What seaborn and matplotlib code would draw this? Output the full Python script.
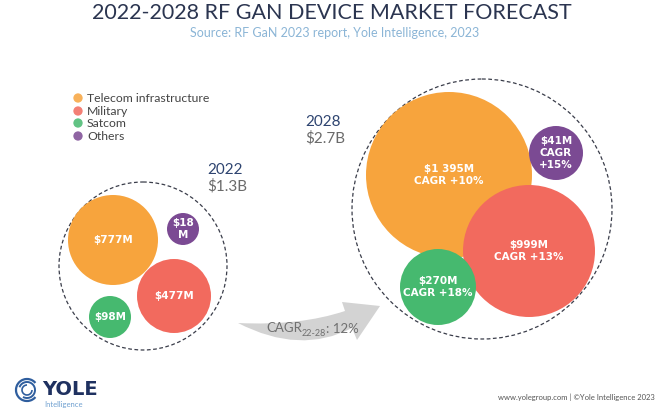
import numpy as np
import pandas as pd
import matplotlib
matplotlib.use("Agg")
import matplotlib.pyplot as plt
import seaborn as sns
from matplotlib.patches import Circle, PathPatch, Arc
from matplotlib.path import Path

# data
categories = ["Telecom infrastructure", "Military", "Satcom", "Others"]
values_2022 = [777, 477, 98, 18]        # $M
values_2028 = [1395, 999, 270, 41]      # $M
cagr_22_28 = [10, 13, 18, 15]           # %
total_2022 = "$1.3B"
total_2028 = "$2.7B"
cagr_total = 12
colors = ["#F7A43D", "#F26A5E", "#46B96F", "#7B4A93"]

# bubble layout in pixel space (x, y, radius) - packing, not data
layout_2022 = [(113, 240, 45), (174, 296, 37), (110, 317, 21), (183, 229, 16)]
layout_2028 = [(449, 175, 83), (529, 251, 66), (438, 287, 38), (556, 153, 27)]
DPI = 100


def fmt_m(v):
    s = f"{v:,}".replace(",", " ")
    return f"${s}M"


def build_frame(year, values, layout, cagr=None):
    rows = []
    for i, cat in enumerate(categories):
        x, y, r = layout[i]
        if cagr is None:
            label = fmt_m(values[i])
            if values[i] < 50:
                label = f"${values[i]}\nM"
        else:
            if values[i] < 50:
                label = f"{fmt_m(values[i])}\nCAGR\n+{cagr[i]}%"
            else:
                label = f"{fmt_m(values[i])}\nCAGR +{cagr[i]}%"
        rows.append({"year": year, "category": cat, "value": values[i],
                     "x": x, "y": y, "r": r, "label": label})
    return pd.DataFrame(rows)


df = pd.concat([build_frame(2022, values_2022, layout_2022),
                build_frame(2028, values_2028, layout_2028, cagr_22_28)],
               ignore_index=True)
# marker area in pt^2 so the diameter is 2r pixels
df["s"] = (2 * df["r"] * 72 / DPI) ** 2

sns.set_theme(style="white")
plt.rcParams["font.family"] = ["Lato", "DejaVu Sans"]

fig = plt.figure(figsize=(6.6, 4.15), dpi=DPI)
ax = fig.add_axes([0, 0, 1, 1])

palette = dict(zip(categories, colors))

# dashed year circles
for cx, cy, rr in [(143, 266, 84), (482, 209, 130)]:
    ax.add_patch(Circle((cx, cy), rr, fill=False, ec="#3a3d4a", lw=0.9,
                        ls=(0, (3, 2)), zorder=1))

# curved arrow
verts = [(238, 323), (300, 326), (345, 311), (342, 302), (380, 306),
         (357, 340), (352, 328), (300, 355), (238, 323)]
codes = [Path.MOVETO, Path.CURVE3, Path.CURVE3, Path.LINETO, Path.LINETO,
         Path.LINETO, Path.LINETO, Path.CURVE3, Path.CURVE3]
ax.add_patch(PathPatch(Path(verts, codes), fc="#d3d3d3", ec="none", zorder=1))

# bubbles
for yr, d in df.groupby("year"):
    sns.scatterplot(data=d, x="x", y="y", hue="category", palette=palette,
                    s=d["s"].values, linewidth=0, alpha=1, legend=False,
                    ax=ax, zorder=2)
    for _, row in d.iterrows():
        ax.text(row["x"], row["y"], row["label"], ha="center", va="center",
                color="white", fontsize=7.5, fontweight="bold",
                family="DejaVu Sans", linespacing=1.2, zorder=4)

# legend
leg = pd.DataFrame({"category": categories, "x": [78] * 4,
                    "y": [98, 111, 123, 136]})
sns.scatterplot(data=leg, x="x", y="y", hue="category", palette=palette,
                s=45, linewidth=0, legend=False, ax=ax, alpha=0.85)
for _, row in leg.iterrows():
    ax.text(87, row["y"], row["category"], fontsize=8.8, color="#444444",
            va="center", ha="left")

ax.set_xlim(0, 660)
ax.set_ylim(415, 0)
ax.set_xlabel("")
ax.set_ylabel("")
ax.axis("off")

# CAGR text on the arrow
t1 = ax.text(266, 328, "CAGR", fontsize=9.5, color="#707070", va="center",
             ha="left", zorder=3)
t2 = ax.annotate("22-28", xy=(1, 0.05), xycoords=t1, fontsize=6.5,
                 color="#707070", va="center", ha="left", zorder=3)
ax.annotate(f": {cagr_total}%", xy=(1, 0.5), xycoords=t2, xytext=(0, 3),
            textcoords="offset points", fontsize=9.5, color="#707070",
            va="center", ha="left", zorder=3)

# year labels
ax.text(207, 170, "2022", fontsize=11, color="#2E4470", va="center", ha="left")
ax.text(207, 186, total_2022, fontsize=11, color="#6a6a6a", va="center", ha="left")
ax.text(305, 122, "2028", fontsize=11, color="#2E4470", va="center", ha="left")
ax.text(305, 138, total_2028, fontsize=11, color="#6a6a6a", va="center", ha="left")

# titles
ax.text(332, 13, "2022-2028 RF GAN DEVICE MARKET FORECAST", fontsize=15.5,
        color="#2B3550", ha="center", va="center", fontweight="normal")
ax.text(335, 33, "Source: RF GaN 2023 report, Yole Intelligence, 2023",
        fontsize=9, color="#8BB5D6", ha="center", va="center")

# footer / logo
for rr, t1a, t2a, lw in [(11, 40, 320, 1.6), (8, 200, 120, 1.4), (5, 0, 270, 1.2)]:
    ax.add_patch(Arc((27, 390), 2 * rr, 2 * rr, theta1=t1a, theta2=t2a,
                     color="#2F5E9E", lw=lw))
ax.text(42, 389, "YOLE", fontsize=14, fontweight="bold", color="#1F3160",
        family="DejaVu Sans", va="center", ha="left")
ax.text(44, 404, "Intelligence", fontsize=5.5, color="#6FA0D0",
        va="center", ha="left")
ax.text(655, 397, "www.yolegroup.com | ©Yole Intelligence 2023", fontsize=5.5,
        color="#555555", va="center", ha="right")

fig.savefig("out.png", dpi=DPI)
